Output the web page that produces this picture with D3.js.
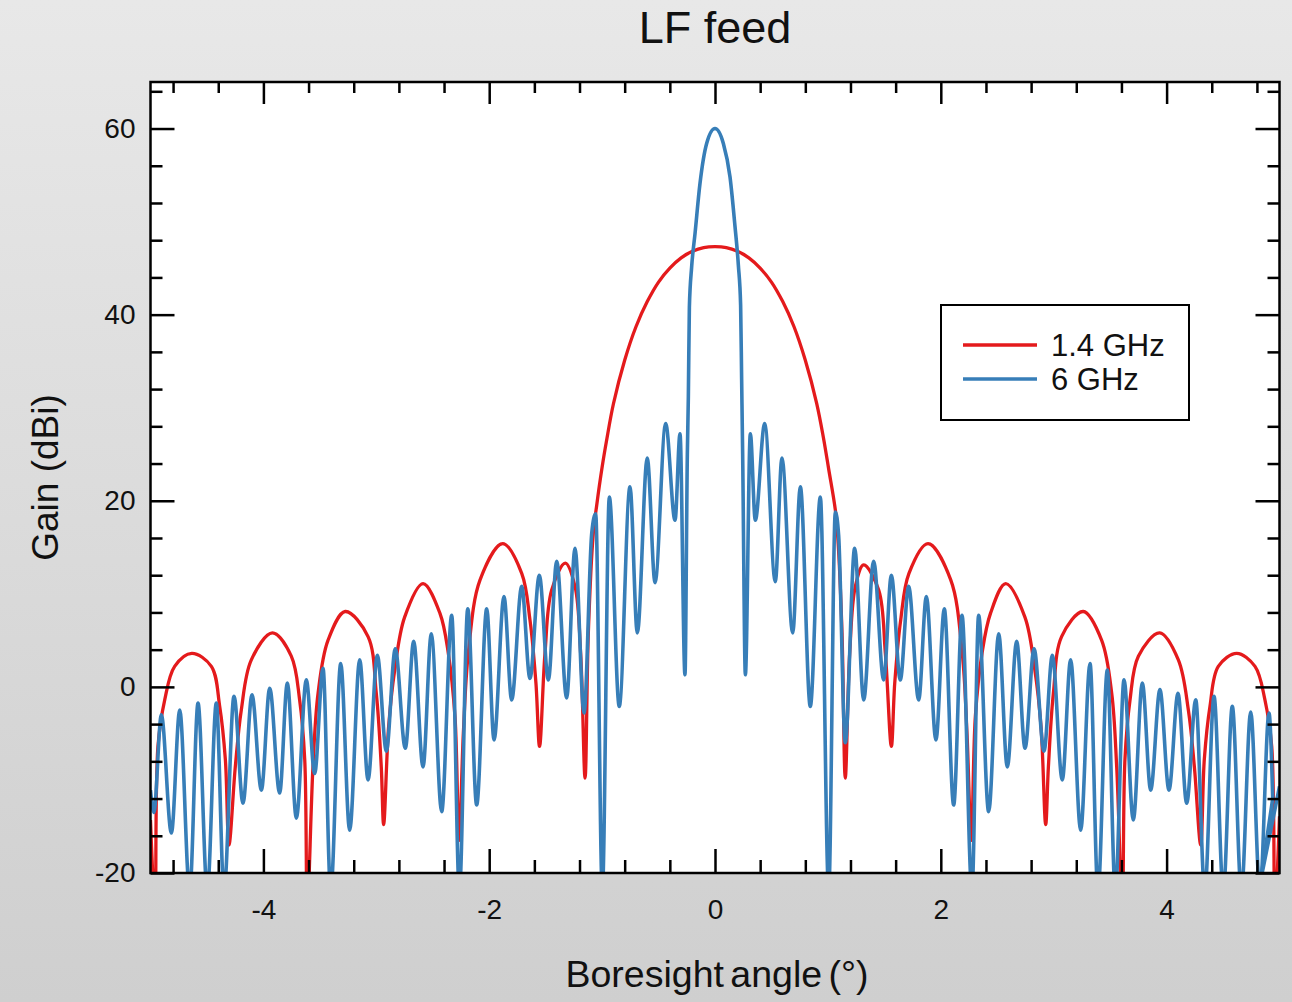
<!DOCTYPE html>
<html>
<head>
<meta charset="utf-8">
<script src="https://cdn.jsdelivr.net/npm/d3@7"></script>
<style>
  html, body { margin: 0; padding: 0; }
  body { width: 1292px; height: 1002px; overflow: hidden; font-family: Arial, "Liberation Sans", sans-serif; }
</style>
</head>
<body>
<div class="canvas"></div>
<script>
// chart values
const title = 'LF feed';
const xLabel = 'Boresight angle (°)';
const yLabel = 'Gain (dBi)';
const seriesNames = ['1.4 GHz', '6 GHz'];
const xTicks = [-4, -2, 0, 2, 4];
const yTicks = [-20, 0, 20, 40, 60];

// 1.4 GHz: [angle, gain]
const gain14 = [
  [-5.0, -14.3], [-4.96, -24], [-4.934, -6.4], [-4.874, -1.4], [-4.786, 2.2], [-4.634, 3.6], [-4.461, 2.2], [-4.387, -2.1], [-4.337, -7.8], [-4.305, -17.0],
  [-4.249, -8.6], [-4.196, -2.5], [-4.107, 2.9], [-3.92, 5.8], [-3.753, 3.3], [-3.679, -1.4], [-3.634, -7.8], [-3.611, -24],
  [-3.561, -8.6], [-3.516, -0.7], [-3.428, 5.0], [-3.275, 8.1], [-3.073, 5.4], [-3.0, -0.7], [-2.956, -8.6], [-2.935, -14.8],
  [-2.891, -4.3], [-2.837, 1.8], [-2.749, 7.5], [-2.586, 11.1], [-2.436, 7.9], [-2.362, 3.6], [-2.303, -3.2], [-2.267, -16.5],
  [-2.229, -5.0], [-2.185, 3.6], [-2.081, 11.5], [-1.880, 15.4], [-1.712, 12.2], [-1.639, 7.2], [-1.586, 0.4], [-1.554, -6.4],
  [-1.506, 3.6], [-1.447, 10.4], [-1.326, 13.3], [-1.240, 10.8], [-1.190, 3.6], [-1.151, -9.8],
  [-1.122, 5.8], [-1.078, 16.5], [-1.048, 19.5], [-1.0, 23.6], [-0.96, 26.5], [-0.9, 30.4], [-0.8, 35.1], [-0.7, 38.7],
  [-0.6, 41.4], [-0.5, 43.5], [-0.4, 45.0], [-0.3, 46.1], [-0.2, 46.8], [-0.1, 47.2], [0, 47.3],
  [0.1, 47.2], [0.2, 46.8], [0.3, 46.1], [0.4, 45.0], [0.5, 43.5], [0.6, 41.4], [0.7, 38.7], [0.8, 35.1],
  [0.9, 30.5], [0.96, 26.8], [1.007, 23.4], [1.066, 19.0], [1.089, 15.8], [1.125, 5.8], [1.154, -9.8],
  [1.193, 3.6], [1.243, 10.8], [1.317, 13.1], [1.450, 10.4], [1.509, 3.6], [1.562, -6.4],
  [1.592, 0.4], [1.645, 7.2], [1.718, 12.2], [1.887, 15.4], [2.088, 11.5], [2.190, 3.6], [2.232, -5.0], [2.270, -16.5],
  [2.306, -3.2], [2.365, 3.6], [2.440, 7.9], [2.575, 11.1], [2.745, 7.5], [2.833, 1.8], [2.888, -4.3], [2.929, -14.8],
  [2.953, -8.6], [2.997, -0.7], [3.070, 5.4], [3.262, 8.1], [3.425, 5.0], [3.514, -0.7], [3.558, -8.6], [3.608, -24],
  [3.631, -7.8], [3.676, -1.4], [3.750, 3.3], [3.939, 5.8], [4.104, 2.9], [4.193, -2.5], [4.246, -8.6], [4.302, -17.0],
  [4.334, -7.8], [4.384, -2.1], [4.458, 2.2], [4.621, 3.6], [4.783, 2.2], [4.871, -1.4], [4.931, -6.4], [4.960, -24], [5.0, -13.9]
];

// 6 GHz: [angle, gain]
const gain6 = [
  [-5.0, -11.1], [-4.97, -13.5], [-4.904, -3.0], [-4.815, -15.7], [-4.741, -2.5], [-4.653, -22], [-4.579, -1.75], [-4.497, -22],
  [-4.417, -1.75], [-4.349, -22], [-4.260, -1.0], [-4.181, -12.5], [-4.101, -0.86], [-4.018, -11.1], [-3.944, -0.14], [-3.856, -11.4],
  [-3.788, 0.4], [-3.708, -14.1], [-3.620, 0.75], [-3.546, -9.3], [-3.472, 2.0], [-3.404, -22], [-3.315, 2.5], [-3.236, -15.4],
  [-3.147, 2.9], [-3.073, -10.0], [-2.991, 3.4], [-2.911, -6.9], [-2.832, 4.1], [-2.743, -6.6], [-2.669, 4.9], [-2.586, -8.6],
  [-2.513, 5.7], [-2.421, -13.4], [-2.332, 7.7], [-2.264, -22], [-2.190, 8.4], [-2.111, -12.7], [-2.022, 8.4], [-1.957, -5.7],
  [-1.869, 9.7], [-1.801, -1.4], [-1.712, 10.8], [-1.639, 0.9], [-1.556, 12.0], [-1.476, 0.75], [-1.402, 13.5], [-1.314, -1.2],
  [-1.240, 14.9], [-1.160, -2.8], [-1.092, 16.5], [-1.057, 18.6], [-0.998, -22], [-0.936, 20.4], [-0.848, -2.1], [-0.753, 21.5],
  [-0.688, 5.8], [-0.600, 24.6], [-0.531, 11.2], [-0.437, 28.3], [-0.354, 17.9], [-0.310, 27.2], [-0.266, 1.3],
  [-0.245, 25], [-0.236, 31.2], [-0.227, 40.8], [-0.207, 45.1], [-0.177, 48.7], [-0.133, 54.1], [-0.074, 58.4], [0, 60],
  [0.074, 58.4], [0.133, 54.8], [0.177, 49.5], [0.207, 45.3], [0.227, 41], [0.236, 33], [0.245, 25], [0.269, 1.3],
  [0.313, 27.2], [0.357, 17.9], [0.440, 28.3], [0.534, 11.3], [0.593, 24.6], [0.688, 5.8], [0.756, 21.5], [0.844, -2.1],
  [0.933, 20.4], [1.007, -22], [1.066, 18.8], [1.095, 16.3], [1.154, -6.0], [1.237, 14.9], [1.317, -1.4], [1.405, 13.5],
  [1.494, 0.75], [1.562, 12.0], [1.641, 0.75], [1.715, 10.8], [1.804, -1.4], [1.872, 9.7], [1.957, -5.7], [2.031, 8.4],
  [2.114, -12.7], [2.188, 7.7], [2.276, -22], [2.335, 7.7], [2.424, -13.4], [2.513, 5.7], [2.589, -8.6], [2.672, 4.9],
  [2.746, -6.6], [2.826, 4.1], [2.914, -6.9], [2.988, 3.4], [3.076, -10.0], [3.150, 2.9], [3.239, -15.4], [3.322, 2.5],
  [3.392, -22], [3.475, 1.8], [3.546, -22], [3.623, 0.75], [3.705, -14.3], [3.785, 0.4], [3.859, -11.1], [3.941, -0.3],
  [4.021, -11.1], [4.101, -0.7], [4.178, -12.5], [4.258, -1.4], [4.338, -22], [4.420, -1.0], [4.502, -22], [4.582, -2.1],
  [4.662, -22], [4.745, -2.7], [4.827, -22], [4.907, -2.8], [4.94, -12], [4.83, -21], [5.0, -10.7]
];

const colours = ['#e41a1c', '#377eb8'];

const W = 1292, H = 1002;
const plot = {left: 150.5, right: 1279.5, top: 82, bottom: 873};

const svg = d3.select('.canvas')
  .append('svg')
  .attr('width', W)
  .attr('height', H);

// grey backdrop with a soft vertical gradient
const defs = svg.append('defs');
const grad = defs.append('linearGradient')
  .attr('id', 'bg')
  .attr('x1', 0).attr('y1', 0).attr('x2', 0).attr('y2', 1);
grad.append('stop').attr('offset', '0%').attr('stop-color', '#e8e8e8');
grad.append('stop').attr('offset', '100%').attr('stop-color', '#cfcfcf');

svg.append('rect').attr('width', W).attr('height', H).attr('fill', 'url(#bg)');

defs.append('clipPath').attr('id', 'clip')
  .append('rect')
  .attr('x', plot.left).attr('y', plot.top)
  .attr('width', plot.right - plot.left).attr('height', plot.bottom - plot.top);

svg.append('rect')
  .attr('x', plot.left).attr('y', plot.top)
  .attr('width', plot.right - plot.left).attr('height', plot.bottom - plot.top)
  .attr('fill', '#fff');

const x = d3.scaleLinear().domain([-5, 5]).range([plot.left, plot.right]);
const y = d3.scaleLinear().domain([-20, 65]).range([plot.bottom, plot.top]);

// curves
const line = d3.line()
  .x(d => x(d[0]))
  .y(d => y(d[1]))
  .curve(d3.curveMonotoneX);

const smooth = d3.line()
  .x(d => x(d[0]))
  .y(d => y(d[1]))
  .curve(d3.curveCatmullRom.alpha(0.5));

const curves = svg.append('g').attr('clip-path', 'url(#clip)');

curves.append('path')
  .attr('d', smooth(gain14))
  .attr('fill', 'none')
  .attr('stroke', colours[0])
  .attr('stroke-width', 3.3)
  .attr('stroke-linejoin', 'round');

// last points of the 6 GHz trace fold back, so draw the tail as straight segments
const mainPart = gain6.slice(0, gain6.length - 2);
const tail = gain6.slice(gain6.length - 3);
curves.append('path')
  .attr('d', line(mainPart))
  .attr('fill', 'none')
  .attr('stroke', colours[1])
  .attr('stroke-width', 3.6)
  .attr('stroke-linejoin', 'round');
curves.append('path')
  .attr('d', d3.line().x(d => x(d[0])).y(d => y(d[1]))(tail))
  .attr('fill', 'none')
  .attr('stroke', colours[1])
  .attr('stroke-width', 3.6);

// axes: ticks point inward on all four sides
const fmt = d => d3.format('d')(d).replace('−', '-');
const xMinor = d3.range(-4.8, 5, 0.4).map(v => +v.toFixed(1)).filter(v => Math.abs(v % 2) > 0.01);
const yMinor = d3.range(-16, 65, 4).filter(v => v % 20 !== 0);

const styleAxis = g => {
  g.select('.domain').remove();
  g.selectAll('line').attr('stroke', '#000').attr('stroke-width', 2.5);
  g.selectAll('text')
    .attr('fill', '#111')
    .style('font-family', 'Arial, "Liberation Sans", sans-serif')
    .style('font-size', '28px');
};

svg.append('g').attr('transform', `translate(0,${plot.bottom})`)
  .call(d3.axisBottom(x).tickValues(xTicks).tickSize(-24).tickPadding(26).tickFormat(fmt))
  .call(styleAxis);
svg.append('g').attr('transform', `translate(0,${plot.bottom})`)
  .call(d3.axisBottom(x).tickValues(xMinor).tickSize(-13).tickFormat(''))
  .call(styleAxis);
svg.append('g').attr('transform', `translate(0,${plot.top})`)
  .call(d3.axisTop(x).tickValues(xTicks).tickSize(-22).tickFormat(''))
  .call(styleAxis);
svg.append('g').attr('transform', `translate(0,${plot.top})`)
  .call(d3.axisTop(x).tickValues(xMinor).tickSize(-11).tickFormat(''))
  .call(styleAxis);

svg.append('g').attr('transform', `translate(${plot.left},0)`)
  .call(d3.axisLeft(y).tickValues(yTicks).tickSize(-24).tickPadding(15).tickFormat(fmt))
  .call(styleAxis);
svg.append('g').attr('transform', `translate(${plot.left},0)`)
  .call(d3.axisLeft(y).tickValues(yMinor).tickSize(-12).tickFormat(''))
  .call(styleAxis);
svg.append('g').attr('transform', `translate(${plot.right},0)`)
  .call(d3.axisRight(y).tickValues(yTicks).tickSize(-24).tickFormat(''))
  .call(styleAxis);
svg.append('g').attr('transform', `translate(${plot.right},0)`)
  .call(d3.axisRight(y).tickValues(yMinor).tickSize(-12).tickFormat(''))
  .call(styleAxis);

// frame
svg.append('rect')
  .attr('x', plot.left).attr('y', plot.top)
  .attr('width', plot.right - plot.left).attr('height', plot.bottom - plot.top)
  .attr('fill', 'none')
  .attr('stroke', '#000')
  .attr('stroke-width', 2.5);

// titles
svg.append('text')
  .attr('x', (plot.left + plot.right) / 2).attr('y', 43)
  .attr('text-anchor', 'middle')
  .style('font-size', '45px')
  .attr('fill', '#111')
  .text(title);

svg.append('text')
  .attr('x', (plot.left + plot.right) / 2 + 2).attr('y', 987)
  .attr('text-anchor', 'middle')
  .style('font-size', '37.5px')
  .style('word-spacing', '-4px')
  .attr('fill', '#111')
  .text(xLabel);

svg.append('text')
  .attr('transform', `translate(58,${(plot.top + plot.bottom) / 2}) rotate(-90)`)
  .attr('text-anchor', 'middle')
  .style('font-size', '37px')
  .attr('fill', '#111')
  .text(yLabel);

// legend
const legend = svg.append('g').attr('transform', 'translate(941,305)');
legend.append('rect')
  .attr('width', 248).attr('height', 115)
  .attr('fill', '#fff').attr('stroke', '#000').attr('stroke-width', 2);
seriesNames.forEach((name, i) => {
  const ly = 40 + i * 34;
  legend.append('line')
    .attr('x1', 22).attr('x2', 96).attr('y1', ly).attr('y2', ly)
    .attr('stroke', colours[i]).attr('stroke-width', 3.3);
  legend.append('text')
    .attr('x', 110).attr('y', ly + 11)
    .style('font-size', '31px')
    .attr('fill', '#111')
    .text(name);
});
</script>
</body>
</html>
